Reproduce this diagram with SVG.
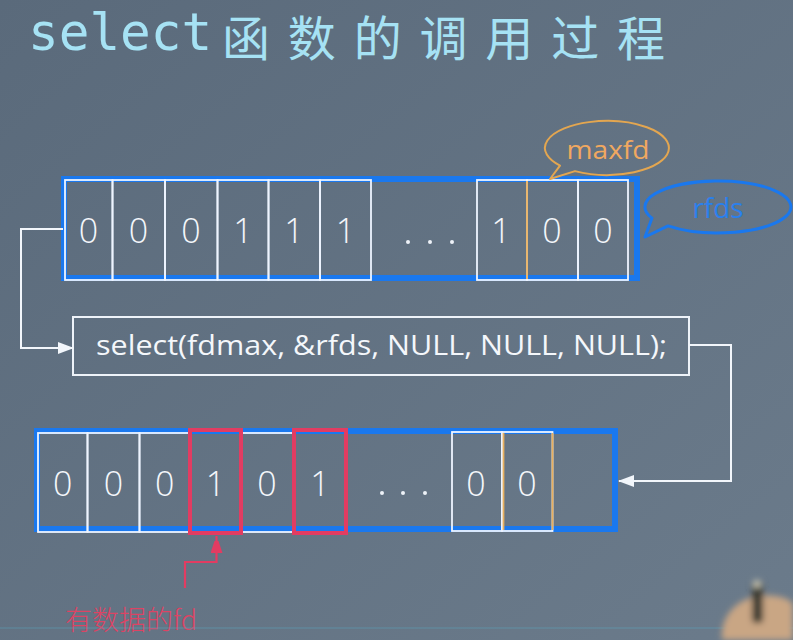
<svg xmlns="http://www.w3.org/2000/svg" width="793" height="640" viewBox="0 0 793 640">
  <defs>
    <linearGradient id="bg" x1="0" y1="0" x2="1" y2="1">
      <stop offset="0" stop-color="#5a6a7b"/>
      <stop offset="1" stop-color="#6b7b8b"/>
    </linearGradient>
    <marker id="arrowW" markerWidth="16" markerHeight="12" refX="15" refY="6" orient="auto" markerUnits="userSpaceOnUse">
      <path d="M0,0 L16,6 L0,12 Z" fill="#f2f6fb"/>
    </marker>
    <marker id="arrowR" markerWidth="12" markerHeight="18" refX="17" refY="6" orient="auto" markerUnits="userSpaceOnUse">
      <path d="M0,0 L18,6 L0,12 Z" fill="#e23c62"/>
    </marker>
    <filter id="soft" x="-20%" y="-20%" width="140%" height="140%">
      <feGaussianBlur stdDeviation="3"/>
    </filter>
    <style>
      .frame { fill: none; stroke: #1a78ee; stroke-width: 6; }
      .cell { fill: none; stroke: #eef4ff; stroke-width: 1.8; }
      .ocell { stroke: #e8b060; stroke-width: 1.8; }
      .hit { fill: none; stroke: #e23c62; stroke-width: 4; }
      .digit { font-family: "Open Sans", "Liberation Sans", sans-serif; font-weight: 300; font-size: 34px; fill: #f4f7fb; text-anchor: middle; }
      .dot { fill: #eef2f8; }
      .wire { fill: none; stroke: #f2f6fb; stroke-width: 2; }
      .redwire { fill: none; stroke: #e23c62; stroke-width: 2.2; }
      .code { font-family: "Open Sans", "Liberation Sans", sans-serif; font-size: 28px; fill: #f4f7fb; }
    </style>
  </defs>

  <!-- backdrop -->
  <rect width="793" height="640" fill="url(#bg)"/>

  <!-- heading -->
  <g id="title">
    <text x="28" y="50" font-family="'DejaVu Sans Mono', 'Liberation Mono', monospace" font-size="51" fill="#a6e2f4">select</text>
    <text x="222" y="56" font-family="'Noto Sans CJK SC', sans-serif" font-size="48" fill="#a6e2f4" textLength="443" lengthAdjust="spacing">函数的调用过程</text>
  </g>

  <!-- read set passed in -->
  <g id="rfds-in">
    <rect class="frame" x="64" y="179" width="573" height="99"/>
    <rect class="cell" x="65" y="180" width="47.5" height="100"/>
    <rect class="cell" x="112.5" y="180" width="52.5" height="100"/>
    <rect class="cell" x="165" y="180" width="52.5" height="100"/>
    <rect class="cell" x="217.5" y="180" width="51" height="100"/>
    <rect class="cell" x="268.5" y="180" width="51.5" height="100"/>
    <rect class="cell" x="320" y="180" width="51" height="100"/>
    <rect class="cell" x="477" y="180" width="50" height="100"/>
    <rect class="cell" x="527" y="180" width="51" height="100"/>
    <rect class="cell" x="578" y="180" width="50" height="100"/>
    <line class="ocell" x1="527" y1="181" x2="527" y2="279"/>
    <text class="digit" x="88.5" y="243">0</text>
    <text class="digit" x="138.5" y="243">0</text>
    <text class="digit" x="191" y="243">0</text>
    <text class="digit" x="243" y="243">1</text>
    <text class="digit" x="294" y="243">1</text>
    <text class="digit" x="345.5" y="243">1</text>
    <circle class="dot" cx="408" cy="242" r="2"/>
    <circle class="dot" cx="430" cy="242" r="2"/>
    <circle class="dot" cx="452" cy="242" r="2"/>
    <text class="digit" x="501" y="243">1</text>
    <text class="digit" x="552" y="243">0</text>
    <text class="digit" x="603" y="243">0</text>
  </g>

  <!-- maxfd callout -->
  <g id="maxfd-label">
    <path d="M560,165.6 A62,27 0 1 1 575,171.1 L550,179 Z" fill="none" stroke="#e3a650" stroke-width="2" stroke-linejoin="round"/>
    <text x="608" y="159" font-family="'Open Sans', 'Liberation Sans', sans-serif" font-size="26" fill="#f0a860" text-anchor="middle" textLength="83" lengthAdjust="spacingAndGlyphs">maxfd</text>
  </g>

  <!-- rfds callout -->
  <g id="rfds-label">
    <path d="M652,218.1 A73,26 0 1 1 668,225.9 L645,237 Z" fill="none" stroke="#1a78ee" stroke-width="3" stroke-linejoin="round"/>
    <text x="718" y="218" font-family="'Open Sans', 'Liberation Sans', sans-serif" font-size="27" fill="#2a80ee" text-anchor="middle" textLength="51" lengthAdjust="spacingAndGlyphs">rfds</text>
  </g>

  <!-- the call -->
  <g id="select-call">
    <rect x="73" y="317" width="616" height="58" fill="none" stroke="#eef3f9" stroke-width="2"/>
    <text class="code" x="96" y="355" textLength="571" lengthAdjust="spacingAndGlyphs">select(fdmax, &amp;rfds, NULL, NULL, NULL);</text>
  </g>

  <!-- read set after return -->
  <g id="rfds-out">
    <rect class="frame" x="37" y="431" width="578" height="98"/>
    <rect class="cell" x="38" y="433" width="49.5" height="99"/>
    <rect class="cell" x="87.5" y="433" width="52" height="99"/>
    <rect class="cell" x="139.5" y="433" width="50.5" height="99"/>
    <rect class="cell" x="241" y="433" width="52" height="99"/>
    <rect class="cell" x="452" y="432" width="50" height="99"/>
    <rect class="cell" x="502" y="432" width="50.5" height="99"/>
    <line class="ocell" x1="503.5" y1="433" x2="503.5" y2="530"/>
    <line class="ocell" x1="552.5" y1="433" x2="552.5" y2="530"/>
    <rect class="hit" x="190" y="430" width="51" height="103"/>
    <rect class="hit" x="294" y="430" width="52" height="103"/>
    <text class="digit" x="62.7" y="496">0</text>
    <text class="digit" x="113.5" y="496">0</text>
    <text class="digit" x="164.7" y="496">0</text>
    <text class="digit" x="215.5" y="496">1</text>
    <text class="digit" x="267" y="496">0</text>
    <text class="digit" x="320" y="496">1</text>
    <circle class="dot" cx="382" cy="493" r="2"/>
    <circle class="dot" cx="403" cy="493" r="2"/>
    <circle class="dot" cx="425" cy="493" r="2"/>
    <text class="digit" x="476" y="496">0</text>
    <text class="digit" x="527" y="496">0</text>
  </g>

  <!-- note under the ready descriptor -->
  <g id="ready-note">
    <text x="65" y="630" font-family="'Noto Sans CJK SC', sans-serif" font-size="27" font-weight="300" fill="#dc4464">有数据的fd</text>
  </g>

  <!-- connectors -->
  <g id="connectors">
    <polyline class="wire" points="63,229 21,229 21,348 73,348" marker-end="url(#arrowW)"/>
    <polyline class="wire" points="689,345 731,345 731,481 619,481" marker-end="url(#arrowW)"/>
    <polyline class="redwire" points="185,588 185,562 216.5,562 216.5,536" marker-end="url(#arrowR)"/>
  </g>

  <!-- faint scan line and the presenter's hand -->
  <line x1="0" y1="628" x2="793" y2="628" stroke="#5aa4bc" stroke-width="1" opacity="0.55"/>
  <g filter="url(#soft)">
    <path d="M722,640 C720,615 738,598 760,596 C778,594 793,600 793,605 L793,640 Z" fill="#c9a684"/>
    <rect x="752" y="581" width="11" height="42" rx="4" fill="#3a3b32"/>
    <circle cx="757" cy="584" r="4" fill="#c8c4b0"/>
  </g>
</svg>
